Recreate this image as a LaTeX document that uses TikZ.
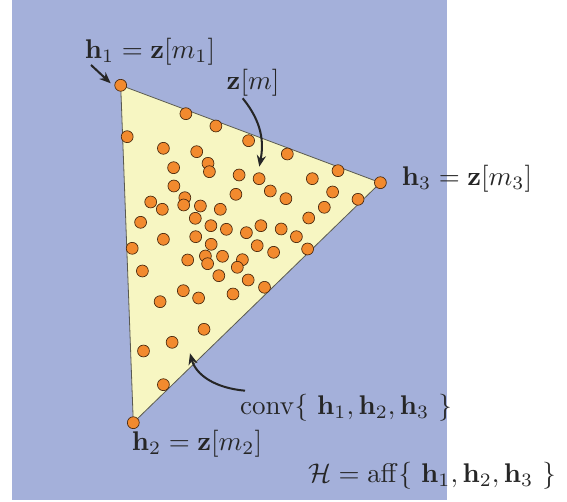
\documentclass[tikz,border=0pt]{standalone}
\usetikzlibrary{arrows.meta}
\definecolor{bgblue}{RGB}{164,176,218}
\definecolor{triyel}{RGB}{247,246,194}
\definecolor{dotor}{RGB}{242,138,46}
\definecolor{edgegray}{RGB}{90,90,80}
\begin{document}
\begin{tikzpicture}[x=0.37pt,y=-0.37pt,
  dot/.style={circle,fill=dotor,draw=black!70!dotor,line width=0.25pt,inner sep=0pt,minimum size=4.4pt},
  lbl/.style={inner sep=0pt,text=black!85},
  arr/.style={line width=0.75pt,-{Stealth[length=4.2pt,width=3.4pt]},black!85}]
\useasboundingbox (0,0) rectangle (567,502);
\fill[bgblue] (12,0) rectangle (447,500);
% triangle
\coordinate (v1) at (120.7,85.3);
\coordinate (v2) at (133.3,422.7);
\coordinate (v3) at (380.4,182.7);
\filldraw[fill=triyel,draw=edgegray,line width=0.3pt] (v1) -- (v2) -- (v3) -- cycle;
% interior points
\foreach \x/\y [count=\i] in {
185.9/113.7, 215.9/126, 248.6/140.7, 287.3/154, 338/170.7,
127.2/136.7, 163.4/148.3, 196.7/151.7, 208/163.3, 209.4/171.7,
173.6/167.7, 239.1/175, 259.1/178.7, 312.3/178.7, 173.9/186,
270.3/191, 235.9/194.3, 285.9/198.7, 332.6/192, 358/199.3,
184.8/197.7, 150.7/202, 183.7/205, 162.3/209.3, 200.4/206,
220.3/209.3, 324.3/207.3, 308.7/218, 195.3/218.3, 140.6/222.3,
210.9/225.7, 226.4/229.3, 246.4/232.7, 260.9/225.7, 281.2/229,
296.4/236.7, 163.4/239.3, 195.7/236.7, 211.2/244.3, 257.2/245.7,
273.6/252.3, 307.6/249, 132.2/248.3, 205.4/256, 222.5/256.3,
242.4/259.7, 187.7/260, 207.6/263.7, 237.3/267.3, 142.4/271,
218.8/275.7, 248.2/280, 264.5/287.3, 183.3/290.7, 198.6/298,
233/294, 160.1/301.7, 204/329.3, 172.1/342.3, 143.5/351,
163.4/384.7}
  \node[dot] (p\i) at (\x,\y) {};
% vertices
\node[dot] (h1) at (v1) {};
\node[dot] (h2) at (v2) {};
\node[dot] (h3) at (v3) {};
% labels
\node[lbl] (l1) at (150,52) {$\mathbf{h}_1 = \mathbf{z}[m_1]$};
\node[lbl] (lz) at (253,83) {$\mathbf{z}[m]$};
\node[lbl] (l3) at (467,179) {$\mathbf{h}_3 = \mathbf{z}[m_3]$};
\node[lbl] (lc) at (346,408) {$\mathrm{conv}\{\ \mathbf{h}_1, \mathbf{h}_2, \mathbf{h}_3\ \}$};
\node[lbl] (l2) at (197,444) {$\mathbf{h}_2 = \mathbf{z}[m_2]$};
\node[lbl] (la) at (432,476) {$\mathcal{H} = \mathrm{aff}\{\ \mathbf{h}_1, \mathbf{h}_2, \mathbf{h}_3\ \}$};
% arrows
\coordinate (t1) at (91,65);
\coordinate (e1) at (110.7,83.3);
\draw[arr] (t1) -- (e1);
\coordinate (tz) at (242.7,98.3);
\coordinate (ez) at (259.3,166.7);
\draw[arr] (tz) .. controls (262,122) and (264,142) .. (ez);
\coordinate (tc) at (245,390.7);
\coordinate (ec) at (190,353.3);
\draw[arr] (tc) .. controls (215,388) and (196,375) .. (ec);
\end{tikzpicture}
\end{document}
